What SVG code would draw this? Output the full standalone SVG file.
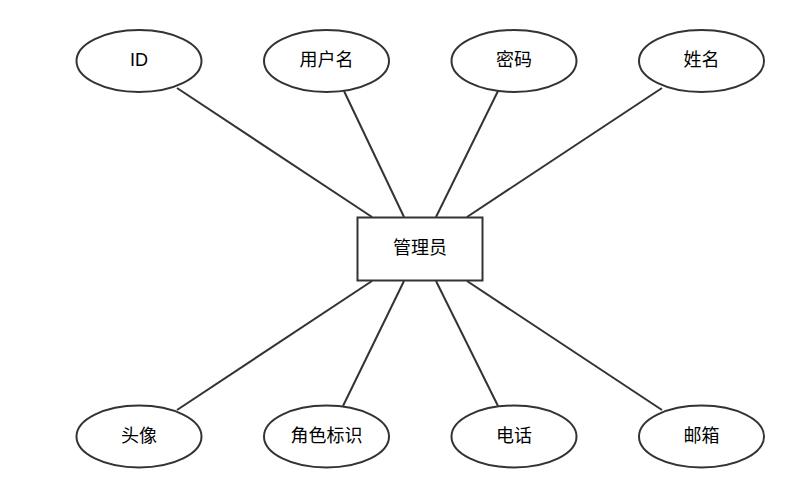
<svg xmlns="http://www.w3.org/2000/svg" width="811" height="489" viewBox="0 0 811 489">
<style>
.n{fill:#fff;stroke:#333;stroke-width:2}
.e{stroke:#333;stroke-width:2;fill:none}
text{font-family:"Liberation Sans","Noto Sans CJK SC",sans-serif;font-size:18px;fill:#000;text-anchor:middle;dominant-baseline:central}
</style>
<rect width="811" height="489" fill="#fff"/>
<g id="connectors">
<line class="e" x1="177" y1="88" x2="372" y2="217"/>
<line class="e" x1="344" y1="91" x2="404" y2="217"/>
<line class="e" x1="498" y1="91" x2="436" y2="217"/>
<line class="e" x1="662" y1="88" x2="467" y2="217"/>
<line class="e" x1="177" y1="410" x2="372" y2="281"/>
<line class="e" x1="343" y1="406" x2="404" y2="281"/>
<line class="e" x1="498" y1="406" x2="436" y2="281"/>
<line class="e" x1="662" y1="410" x2="467" y2="281"/>
</g>
<g id="admin"><rect class="n" x="357.5" y="217.5" width="125" height="63"/><text x="420" y="248">管理员</text></g>
<g id="id"><ellipse class="n" cx="139" cy="61" rx="62.5" ry="31"/><text x="139" y="60">ID</text></g>
<g id="username"><ellipse class="n" cx="326.5" cy="61" rx="62.5" ry="31"/><text x="326.5" y="60">用户名</text></g>
<g id="password"><ellipse class="n" cx="514" cy="61" rx="62.5" ry="31"/><text x="514" y="60">密码</text></g>
<g id="name"><ellipse class="n" cx="701.5" cy="61" rx="62.5" ry="31"/><text x="701.5" y="60">姓名</text></g>
<g id="avatar"><ellipse class="n" cx="139" cy="436.5" rx="62.5" ry="31"/><text x="139" y="435.5">头像</text></g>
<g id="role"><ellipse class="n" cx="326.5" cy="436.5" rx="62.5" ry="31"/><text x="326.5" y="435.5">角色标识</text></g>
<g id="phone"><ellipse class="n" cx="514" cy="436.5" rx="62.5" ry="31"/><text x="514" y="435.5">电话</text></g>
<g id="email"><ellipse class="n" cx="701.5" cy="436.5" rx="62.5" ry="31"/><text x="701.5" y="435.5">邮箱</text></g>
</svg>
